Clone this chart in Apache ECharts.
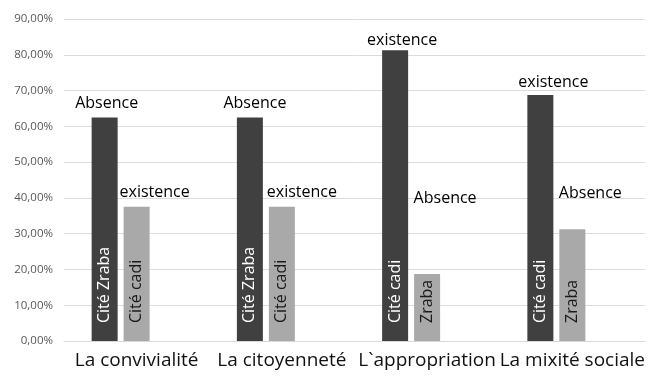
<!DOCTYPE html>
<html>
<head>
<meta charset="utf-8">
<script src="https://cdn.jsdelivr.net/npm/echarts@6/dist/echarts.min.js"></script>
<style>
  html, body { margin: 0; padding: 0; background: #fff; }
  #chart { width: 648px; height: 378px; }
</style>
</head>
<body>
<div id="chart"></div>
<script>
// Categories along the x axis
var categories = ['La convivialité', 'La citoyenneté', 'L`appropriation', 'La mixité sociale'];

// Percentages of the first (dark) and second (light) bar in each group
var darkValues = [62.5, 62.5, 81.25, 68.75];
var lightValues = [37.5, 37.5, 18.75, 31.25];

// Text written inside each bar (vertical)
var darkInside = ['Cité Zraba', 'Cité Zraba', 'Cité cadi', 'Cité cadi'];
var lightInside = ['Cité cadi', 'Cité cadi', 'Zraba', 'Zraba'];

// Text written above each bar
var darkTop = ['Absence', 'Absence', 'existence', 'existence'];
var lightTop = ['existence', 'existence', 'Absence', 'Absence'];

// Y axis tick labels
var yTickLabels = ['0,00%', '10,00%', '20,00%', '30,00%', '40,00%', '50,00%', '60,00%', '70,00%', '80,00%', '90,00%'];

var FONT = '"Open Sans", "Liberation Sans", sans-serif';
var DARK = '#404040';
var LIGHT = '#a9a9a9';

// Nudges for the labels above the bars
var darkTopOffset = [[2, -4], [5, -4], [7, 0], [13, -3]];
var lightTopOffset = [[18, -4], [20, -4], [18, -65], [18, -26]];

function insideSeries(name, values, texts, color, textColor, stack) {
  return {
    name: name,
    type: 'bar',
    stack: stack,
    barWidth: 26,
    barGap: '23%',
    barCategoryGap: '38%',
    itemStyle: { color: color },
    data: values.map(function (v, i) {
      return {
        value: v,
        label: {
          show: true,
          formatter: texts[i],
          position: 'insideBottom',
          distance: 18,
          rotate: 90,
          align: 'left',
          verticalAlign: 'middle',
          color: textColor,
          fontFamily: FONT,
          fontSize: 16
        }
      };
    })
  };
}

function topSeries(name, values, texts, offsets, stack) {
  return {
    name: name,
    type: 'bar',
    stack: stack,
    barWidth: 26,
    itemStyle: { color: 'transparent' },
    silent: true,
    data: values.map(function (v, i) {
      return {
        value: 0,
        label: {
          show: true,
          formatter: texts[i],
          position: 'top',
          distance: 0,
          offset: offsets[i],
          lineHeight: 20,
          color: '#000',
          fontFamily: FONT,
          fontSize: 16
        }
      };
    })
  };
}

var chart = echarts.init(document.getElementById('chart'), null, { renderer: 'canvas' });

chart.setOption({
  animation: false,
  backgroundColor: '#fff',
  grid: { left: 64, right: 3, top: 19, bottom: 37, containLabel: false },
  xAxis: {
    type: 'category',
    data: categories,
    axisTick: { show: false },
    axisLine: { show: true, lineStyle: { color: '#d9d9d9', width: 1 } },
    axisLabel: {
      color: '#111',
      fontFamily: FONT,
      fontSize: 19,
      margin: 10,
      interval: 0
    }
  },
  yAxis: {
    type: 'value',
    min: 0,
    max: 90,
    interval: 10,
    axisLine: { show: false },
    axisTick: { show: false },
    splitLine: { lineStyle: { color: '#dcdcdc', width: 1 } },
    axisLabel: {
      color: '#595959',
      fontFamily: FONT,
      fontSize: 11.5,
      margin: 11,
      formatter: function (v) { return yTickLabels[Math.round(v / 10)]; }
    }
  },
  series: [
    insideSeries('dark', darkValues, darkInside, DARK, '#ffffff', 'a'),
    topSeries('darkTop', darkValues, darkTop, darkTopOffset, 'a'),
    insideSeries('light', lightValues, lightInside, LIGHT, '#1a1a1a', 'b'),
    topSeries('lightTop', lightValues, lightTop, lightTopOffset, 'b'),
    {
      name: 'spare',
      type: 'bar',
      stack: 'c',
      barWidth: 26,
      data: ['-', '-', '-', '-']
    }
  ]
});
</script>
</body>
</html>
